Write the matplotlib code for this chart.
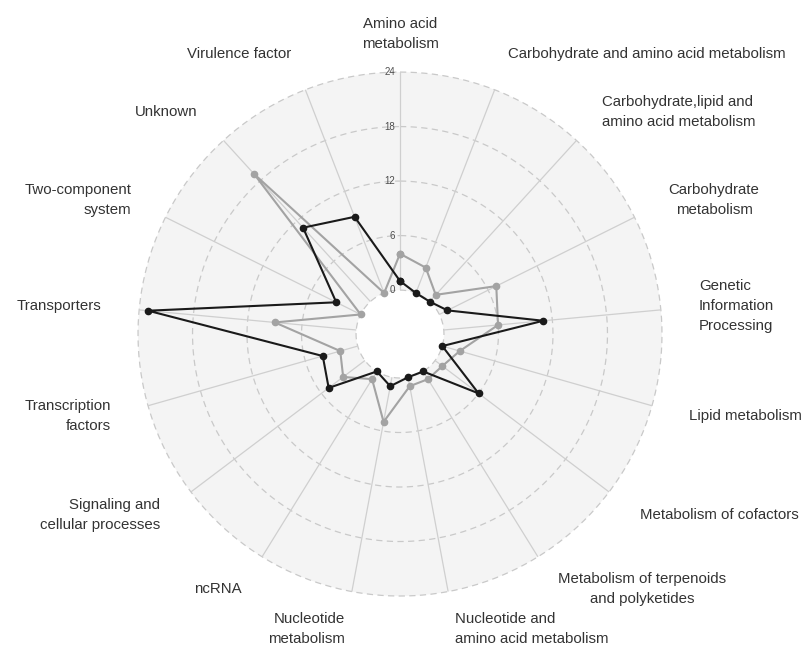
import numpy as np
import matplotlib
matplotlib.use("Agg")
from matplotlib import pyplot as plt
from matplotlib import transforms

plt.rcParams["font.family"] = ["Liberation Sans", "DejaVu Sans"]

categories = [
    "Amino acid\nmetabolism",
    "Carbohydrate and amino acid metabolism",
    "Carbohydrate,lipid and\namino acid metabolism",
    "Carbohydrate\nmetabolism",
    "Genetic\nInformation\nProcessing",
    "Lipid metabolism",
    "Metabolism of cofactors",
    "Metabolism of terpenoids\nand polyketides",
    "Nucleotide and\namino acid metabolism",
    "Nucleotide\nmetabolism",
    "ncRNA",
    "Signaling and\ncellular processes",
    "Transcription\nfactors",
    "Transporters",
    "Two-component\nsystem",
    "Unknown",
    "Virulence factor",
]
black_values = [1, 0, 0, 1, 11, 0, 6, 0, 0, 1, 0, 5, 4, 23, 3, 11, 9]
grey_values = [4, 3, 1, 7, 6, 2, 1, 1, 1, 5, 1, 3, 2, 9, 0, 19, 0]
radial_ticks = [0, 6, 12, 18, 24]

# how the lines of each multi-line label line up
line_align = ["center", "left", "left", "center", "left", "left", "left",
              "center", "left", "right", "right", "right", "right", "right",
              "right", "right", "right"]

fig = plt.figure(figsize=(8.08, 6.48), dpi=100)
ax = fig.add_axes([0.1708, 0.0802, 0.6485, 0.8086], projection="polar")
ax.set_theta_zero_location("N")
ax.set_theta_direction(-1)
ax.set_ylim(0, 24)
ax.set_rorigin(-4.84)
ax.set_facecolor("#f4f4f4")
ax.patch.set_edgecolor("none")
ax.grid(False)
ax.set_xticks([])
ax.set_yticks([])
# polar draw() turns the inner spine back on when there is a hole, so blank it
for sp in ax.spines.values():
    sp.set_visible(False)
    sp.set_edgecolor("none")
    sp.set_linewidth(0)

n = len(categories)
angles = np.linspace(0, 2 * np.pi, n, endpoint=False)

# grid: dashed rings and solid spokes
ring = np.linspace(0, 2 * np.pi, 400)
for t in radial_ticks:
    ax.plot(ring, np.full_like(ring, t), color="#c9c9c9", lw=0.9,
            ls=(0, (5, 3.5)), zorder=1, clip_on=False)
for a in angles:
    ax.plot([a, a], [0, 24], color="#cfcfcf", lw=0.9, zorder=1)

# radial tick labels along the top spoke
lab_tr = transforms.offset_copy(ax.transData, fig=fig, x=-3.5, y=0, units="points")
for t in radial_ticks:
    ax.text(0, t, str(t), transform=lab_tr, ha="right", va="center",
            fontsize=7, color="#4d4d4d", zorder=3)

# series
closed = np.append(angles, angles[0])
ax.plot(closed, grey_values + grey_values[:1], color="#a3a3a3", lw=1.5,
        marker="o", ms=4.5, zorder=4, clip_on=False)
ax.plot(closed, black_values + black_values[:1], color="#1a1a1a", lw=1.5,
        marker="o", ms=4.5, zorder=5, clip_on=False)

# category labels
for a, lab, al in zip(angles, categories, line_align):
    s = np.sin(a)
    ha = "left" if s > 0.01 else ("right" if s < -0.01 else "center")
    ax.text(a, 28.2, lab, ha=ha, va="center", multialignment=al,
            fontsize=10.8, color="#333333", linespacing=1.55, clip_on=False)

fig.savefig("out.png", dpi=100, facecolor="white")
